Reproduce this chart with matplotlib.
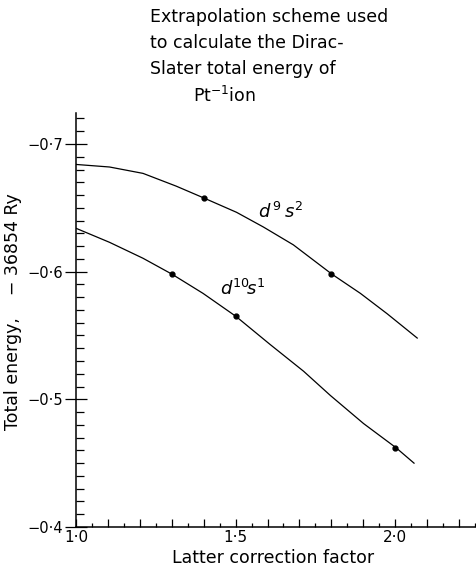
import matplotlib
matplotlib.use("Agg")
import matplotlib.pyplot as plt
from matplotlib.ticker import MultipleLocator, FixedLocator, FuncFormatter

# curves (latter factor, energy + 36854 Ry)
d9s2_x = [1.0, 1.105, 1.21, 1.314, 1.398, 1.503, 1.587, 1.681, 1.802, 1.891, 1.975, 2.069]
d9s2_y = [-0.684, -0.682, -0.677, -0.667, -0.658, -0.6465, -0.635, -0.621, -0.598, -0.583, -0.567, -0.548]
d9s2_pts_x = [1.4, 1.8]
d9s2_pts_y = [-0.658, -0.598]

d10s1_x = [1.0, 1.105, 1.21, 1.301, 1.398, 1.501, 1.608, 1.713, 1.797, 1.901, 2.003, 2.059]
d10s1_y = [-0.634, -0.623, -0.6105, -0.598, -0.583, -0.565, -0.543, -0.522, -0.503, -0.481, -0.462, -0.450]
d10s1_pts_x = [1.3, 1.5, 2.0]
d10s1_pts_y = [-0.598, -0.565, -0.462]

x_labels = {1.0: "1·0", 1.5: "1·5", 2.0: "2·0"}
y_labels = {-0.7: "−0·7", -0.6: "−0·6", -0.5: "−0·5", -0.4: "−0·4"}

title_lines = ["Extrapolation scheme used",
               "to calculate the Dirac-",
               "Slater total energy of"]

plt.rcParams["font.family"] = ["DejaVu Sans"]

fig = plt.figure(figsize=(4.77, 5.65), dpi=100)
ax = fig.add_axes([0.1593, 0.0673, 0.8365, 0.7327])

ax.plot(d9s2_x, d9s2_y, "k-", lw=0.9)
ax.plot(d9s2_pts_x, d9s2_pts_y, "ko", ms=3.5)
ax.plot(d10s1_x, d10s1_y, "k-", lw=0.9)
ax.plot(d10s1_pts_x, d10s1_pts_y, "ko", ms=3.5)

ax.text(1.642, -0.6467, r"$d^{\,9}\,s^{2}$", fontsize=13, ha="center", va="center")
ax.text(1.522, -0.5865, r"$d^{10}\!s^{1}$", fontsize=13, ha="center", va="center")

ax.set_xlim(1.0, 2.25)
ax.set_ylim(-0.4, -0.7243)

for side in ["top", "right"]:
    ax.spines[side].set_visible(False)
for side in ["left", "bottom"]:
    ax.spines[side].set_linewidth(1.1)

ax.xaxis.set_major_locator(FixedLocator([1.0, 1.1, 1.2, 1.3, 1.4, 1.5, 1.6, 1.7, 1.8, 1.9, 2.0, 2.1, 2.2]))
ax.xaxis.set_major_formatter(FuncFormatter(lambda v, p: x_labels.get(round(v, 2), "")))
ax.xaxis.set_minor_locator(MultipleLocator(0.05))
ax.tick_params(axis="x", which="major", direction="in", length=6, width=0.9, labelsize=11, pad=2)
ax.tick_params(axis="x", which="minor", direction="in", length=3, width=0.9)

ax.yaxis.set_major_locator(FixedLocator([-0.7, -0.6, -0.5, -0.4]))
ax.yaxis.set_major_formatter(FuncFormatter(lambda v, p: y_labels.get(round(v, 2), "")))
ax.yaxis.set_minor_locator(MultipleLocator(0.01))
ax.tick_params(axis="y", which="major", direction="inout", length=16, width=0.9, labelsize=10.5, pad=1)
ax.tick_params(axis="y", which="minor", direction="in", length=6, width=0.9)

ax.set_xlabel("Latter correction factor", fontsize=12.5)
ax.xaxis.set_label_coords(0.494, -0.052)
ax.set_ylabel("Total energy,    − 36854 Ry", fontsize=12.5)
ax.yaxis.set_label_coords(-0.135, 0.52)

for i, line in enumerate(title_lines):
    fig.text(150 / 477, 1 - (17 + 26 * i) / 565, line, fontsize=12.5, ha="left", va="center")
fig.text(193 / 477, 1 - 96 / 565, r"Pt$^{-1}$ion", fontsize=12.5, ha="left", va="center")

fig.savefig("out.png", dpi=100)
